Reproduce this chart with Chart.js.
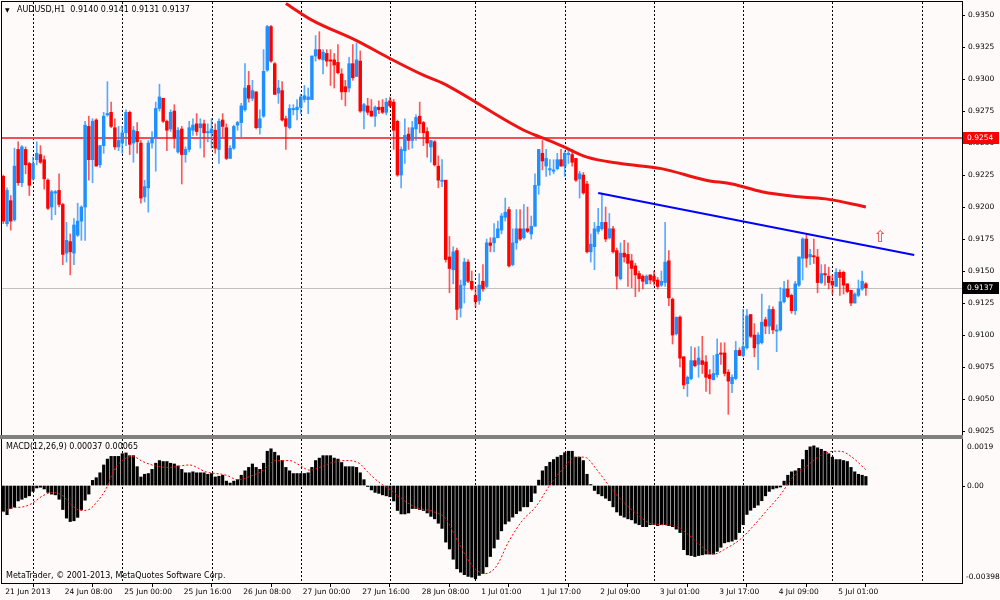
<!DOCTYPE html>
<html>
<head>
<meta charset="utf-8">
<script src="https://cdn.jsdelivr.net/npm/chart.js@4.4.1/dist/chart.umd.min.js"></script>
<style>
  html, body { margin: 0; padding: 0; background: #fffafa; }
  #wrap { position: relative; width: 1000px; height: 600px; overflow: hidden; background: #fffafa; }
  canvas { position: absolute; left: 0; }
  #price { top: 0; }
  #macd { top: 438px; }
  #sep { position: absolute; left: 0; top: 435px; width: 963px; height: 4px; background: #808080; }
</style>
</head>
<body>
<div id="wrap">
  <canvas id="price" width="1000" height="436"></canvas>
  <canvas id="macd" width="1000" height="162"></canvas>
  <div id="sep"></div>
</div>
<script>
// AUDUSD H1, one entry per bar (21 Jun 16:00 .. 5 Jul 08:00)
const symbol = "AUDUSD,H1"

const opens = [
  0.9224, 0.9187, 0.9205, 0.9190, 0.9245, 0.9219, 0.9245, 0.9234, 0.9222, 0.9237,
  0.9241, 0.9237, 0.9221, 0.9200, 0.9211, 0.9213, 0.9202, 0.9164, 0.9173, 0.9164,
  0.9178, 0.9189, 0.9200, 0.9263, 0.9237, 0.9268, 0.9233, 0.9248, 0.9272, 0.9274,
  0.9262, 0.9247, 0.9250, 0.9258, 0.9274, 0.9250, 0.9259, 0.9250, 0.9208, 0.9215,
  0.9250, 0.9254, 0.9277, 0.9285, 0.9267, 0.9261, 0.9275, 0.9243, 0.9261, 0.9241,
  0.9245, 0.9260, 0.9265, 0.9262, 0.9265, 0.9258, 0.9258, 0.9260, 0.9245, 0.9268,
  0.9262, 0.9238, 0.9246, 0.9264, 0.9266, 0.9276, 0.9295, 0.9285, 0.9290, 0.9262,
  0.9271, 0.9307, 0.9341, 0.9312, 0.9289, 0.9291, 0.9269, 0.9262, 0.9276, 0.9276,
  0.9278, 0.9284, 0.9284, 0.9284, 0.9318, 0.9323, 0.9315, 0.9320, 0.9315, 0.9315,
  0.9313, 0.9304, 0.9294, 0.9293, 0.9312, 0.9302, 0.9314, 0.9275, 0.9279, 0.9275,
  0.9271, 0.9278, 0.9278, 0.9274, 0.9283, 0.9282, 0.9267, 0.9225, 0.9244, 0.9257,
  0.9252, 0.9261, 0.9271, 0.9266, 0.9259, 0.9247, 0.9251, 0.9232, 0.9220, 0.9221,
  0.9161, 0.9151, 0.9166, 0.9121, 0.9139, 0.9157, 0.9142, 0.9131, 0.9127, 0.9142,
  0.9138, 0.9172, 0.9172, 0.9176, 0.9182, 0.9192, 0.9198, 0.9155, 0.9172, 0.9183,
  0.9176, 0.9183, 0.9179, 0.9185, 0.9217, 0.9242, 0.9232, 0.9229, 0.9228, 0.9230,
  0.9237, 0.9232, 0.9241, 0.9241, 0.9238, 0.9222, 0.9225, 0.9218, 0.9165, 0.9169,
  0.9181, 0.9183, 0.9188, 0.9176, 0.9183, 0.9166, 0.9144, 0.9164, 0.9163, 0.9158,
  0.9154, 0.9148, 0.9146, 0.9140, 0.9147, 0.9146, 0.9143, 0.9139, 0.9141, 0.9158,
  0.9128, 0.9101, 0.9114, 0.9083, 0.9062, 0.9066, 0.9080, 0.9077, 0.9080, 0.9079,
  0.9069, 0.9065, 0.9069, 0.9086, 0.9086, 0.9071, 0.9062, 0.9066, 0.9088, 0.9084,
  0.9090, 0.9116, 0.9100, 0.9093, 0.9094, 0.9112, 0.9107, 0.9120, 0.9103, 0.9104,
  0.9126, 0.9136, 0.9131, 0.9119, 0.9139, 0.9160, 0.9175, 0.9161, 0.9162, 0.9161,
  0.9141, 0.9148, 0.9146, 0.9142, 0.9138, 0.9149, 0.9149, 0.9140, 0.9135, 0.9125,
  0.9131, 0.9136, 0.9140
]

const highs = [
  0.9225, 0.9215, 0.9209, 0.9246, 0.9251, 0.9248, 0.9247, 0.9235, 0.9239, 0.9251,
  0.9248, 0.9240, 0.9222, 0.9213, 0.9213, 0.9226, 0.9203, 0.9188, 0.9179, 0.9191,
  0.9203, 0.9201, 0.9267, 0.9271, 0.9269, 0.9269, 0.9248, 0.9274, 0.9298, 0.9282,
  0.9269, 0.9263, 0.9263, 0.9276, 0.9275, 0.9263, 0.9266, 0.9252, 0.9221, 0.9252,
  0.9259, 0.9282, 0.9296, 0.9285, 0.9268, 0.9276, 0.9280, 0.9262, 0.9263, 0.9247,
  0.9267, 0.9269, 0.9273, 0.9269, 0.9268, 0.9265, 0.9269, 0.9265, 0.9269, 0.9273,
  0.9265, 0.9248, 0.9264, 0.9267, 0.9281, 0.9312, 0.9306, 0.9299, 0.9290, 0.9276,
  0.9323, 0.9342, 0.9342, 0.9313, 0.9299, 0.9298, 0.9271, 0.9280, 0.9280, 0.9284,
  0.9288, 0.9295, 0.9293, 0.9318, 0.9334, 0.9337, 0.9323, 0.9323, 0.9323, 0.9320,
  0.9327, 0.9308, 0.9299, 0.9317, 0.9327, 0.9328, 0.9322, 0.9281, 0.9285, 0.9284,
  0.9279, 0.9283, 0.9284, 0.9285, 0.9286, 0.9284, 0.9268, 0.9247, 0.9269, 0.9262,
  0.9267, 0.9272, 0.9282, 0.9267, 0.9262, 0.9252, 0.9252, 0.9240, 0.9237, 0.9221,
  0.9177, 0.9169, 0.9168, 0.9143, 0.9160, 0.9159, 0.9150, 0.9138, 0.9148, 0.9155,
  0.9175, 0.9176, 0.9187, 0.9189, 0.9195, 0.9207, 0.9200, 0.9183, 0.9198, 0.9198,
  0.9202, 0.9200, 0.9193, 0.9226, 0.9245, 0.9252, 0.9245, 0.9237, 0.9237, 0.9242,
  0.9245, 0.9244, 0.9245, 0.9245, 0.9238, 0.9228, 0.9227, 0.9220, 0.9179, 0.9188,
  0.9199, 0.9211, 0.9200, 0.9195, 0.9185, 0.9168, 0.9172, 0.9174, 0.9172, 0.9163,
  0.9156, 0.9150, 0.9147, 0.9147, 0.9147, 0.9150, 0.9145, 0.9150, 0.9188, 0.9166,
  0.9129, 0.9114, 0.9115, 0.9083, 0.9068, 0.9091, 0.9090, 0.9091, 0.9099, 0.9084,
  0.9073, 0.9084, 0.9097, 0.9094, 0.9094, 0.9073, 0.9069, 0.9095, 0.9090, 0.9120,
  0.9120, 0.9116, 0.9109, 0.9102, 0.9132, 0.9114, 0.9123, 0.9122, 0.9108, 0.9137,
  0.9142, 0.9143, 0.9132, 0.9142, 0.9161, 0.9176, 0.9179, 0.9167, 0.9175, 0.9167,
  0.9155, 0.9155, 0.9153, 0.9147, 0.9152, 0.9151, 0.9150, 0.9140, 0.9135, 0.9133,
  0.9143, 0.9150, 0.9141
]

const lows = [
  0.9187, 0.9185, 0.9182, 0.9189, 0.9217, 0.9216, 0.9226, 0.9209, 0.9221, 0.9233,
  0.9234, 0.9214, 0.9198, 0.9190, 0.9194, 0.9200, 0.9155, 0.9157, 0.9147, 0.9155,
  0.9177, 0.9174, 0.9174, 0.9221, 0.9219, 0.9232, 0.9231, 0.9242, 0.9271, 0.9262,
  0.9245, 0.9244, 0.9242, 0.9248, 0.9241, 0.9235, 0.9242, 0.9203, 0.9204, 0.9196,
  0.9246, 0.9228, 0.9275, 0.9266, 0.9244, 0.9259, 0.9246, 0.9242, 0.9218, 0.9235,
  0.9243, 0.9256, 0.9256, 0.9246, 0.9239, 0.9251, 0.9246, 0.9242, 0.9234, 0.9255,
  0.9237, 0.9238, 0.9245, 0.9260, 0.9255, 0.9275, 0.9282, 0.9283, 0.9261, 0.9257,
  0.9270, 0.9306, 0.9313, 0.9288, 0.9281, 0.9267, 0.9245, 0.9261, 0.9272, 0.9268,
  0.9273, 0.9282, 0.9273, 0.9284, 0.9314, 0.9315, 0.9304, 0.9310, 0.9295, 0.9293,
  0.9304, 0.9284, 0.9279, 0.9290, 0.9299, 0.9302, 0.9274, 0.9261, 0.9272, 0.9271,
  0.9263, 0.9273, 0.9273, 0.9272, 0.9278, 0.9245, 0.9224, 0.9215, 0.9234, 0.9245,
  0.9246, 0.9252, 0.9258, 0.9248, 0.9239, 0.9235, 0.9232, 0.9215, 0.9216, 0.9157,
  0.9133, 0.9140, 0.9112, 0.9114, 0.9125, 0.9141, 0.9135, 0.9122, 0.9124, 0.9134,
  0.9137, 0.9165, 0.9165, 0.9176, 0.9179, 0.9189, 0.9153, 0.9154, 0.9167, 0.9174,
  0.9175, 0.9180, 0.9175, 0.9185, 0.9210, 0.9229, 0.9224, 0.9225, 0.9226, 0.9229,
  0.9232, 0.9224, 0.9234, 0.9232, 0.9220, 0.9207, 0.9210, 0.9164, 0.9157, 0.9151,
  0.9179, 0.9182, 0.9173, 0.9175, 0.9164, 0.9136, 0.9143, 0.9157, 0.9138, 0.9137,
  0.9130, 0.9134, 0.9136, 0.9140, 0.9140, 0.9139, 0.9136, 0.9138, 0.9138, 0.9123,
  0.9093, 0.9100, 0.9075, 0.9058, 0.9052, 0.9065, 0.9075, 0.9067, 0.9070, 0.9056,
  0.9054, 0.9065, 0.9067, 0.9077, 0.9068, 0.9038, 0.9055, 0.9065, 0.9084, 0.9083,
  0.9089, 0.9098, 0.9083, 0.9073, 0.9093, 0.9101, 0.9101, 0.9101, 0.9087, 0.9103,
  0.9125, 0.9129, 0.9117, 0.9116, 0.9138, 0.9143, 0.9153, 0.9155, 0.9156, 0.9133,
  0.9140, 0.9139, 0.9136, 0.9132, 0.9138, 0.9131, 0.9132, 0.9133, 0.9123, 0.9125,
  0.9130, 0.9135, 0.9131
]

const closes = [
  0.9189, 0.9213, 0.9189, 0.9232, 0.9219, 0.9247, 0.9233, 0.9217, 0.9234, 0.9242,
  0.9235, 0.9222, 0.9199, 0.9212, 0.9212, 0.9202, 0.9163, 0.9174, 0.9165, 0.9186,
  0.9189, 0.9200, 0.9264, 0.9237, 0.9267, 0.9232, 0.9248, 0.9271, 0.9273, 0.9263,
  0.9247, 0.9252, 0.9258, 0.9274, 0.9249, 0.9260, 0.9251, 0.9207, 0.9216, 0.9250,
  0.9254, 0.9277, 0.9286, 0.9267, 0.9260, 0.9274, 0.9254, 0.9260, 0.9241, 0.9245,
  0.9262, 0.9264, 0.9259, 0.9265, 0.9258, 0.9259, 0.9261, 0.9246, 0.9267, 0.9263,
  0.9238, 0.9246, 0.9263, 0.9266, 0.9279, 0.9293, 0.9285, 0.9291, 0.9262, 0.9269,
  0.9306, 0.9341, 0.9314, 0.9288, 0.9293, 0.9268, 0.9263, 0.9277, 0.9277, 0.9278,
  0.9286, 0.9287, 0.9286, 0.9318, 0.9323, 0.9316, 0.9321, 0.9314, 0.9314, 0.9311,
  0.9305, 0.9290, 0.9290, 0.9312, 0.9301, 0.9315, 0.9275, 0.9280, 0.9274, 0.9271,
  0.9278, 0.9276, 0.9274, 0.9282, 0.9279, 0.9260, 0.9225, 0.9245, 0.9256, 0.9252,
  0.9262, 0.9270, 0.9265, 0.9258, 0.9250, 0.9252, 0.9233, 0.9221, 0.9221, 0.9159,
  0.9152, 0.9165, 0.9120, 0.9139, 0.9157, 0.9142, 0.9136, 0.9126, 0.9139, 0.9136,
  0.9172, 0.9170, 0.9176, 0.9183, 0.9193, 0.9196, 0.9154, 0.9172, 0.9183, 0.9175,
  0.9183, 0.9181, 0.9185, 0.9217, 0.9245, 0.9236, 0.9238, 0.9230, 0.9229, 0.9237,
  0.9232, 0.9242, 0.9242, 0.9235, 0.9221, 0.9226, 0.9211, 0.9165, 0.9171, 0.9183,
  0.9185, 0.9188, 0.9175, 0.9183, 0.9165, 0.9146, 0.9164, 0.9161, 0.9156, 0.9152,
  0.9147, 0.9144, 0.9142, 0.9146, 0.9143, 0.9142, 0.9138, 0.9142, 0.9157, 0.9129,
  0.9100, 0.9114, 0.9082, 0.9061, 0.9067, 0.9080, 0.9076, 0.9082, 0.9077, 0.9067,
  0.9066, 0.9070, 0.9085, 0.9085, 0.9070, 0.9064, 0.9067, 0.9088, 0.9084, 0.9091,
  0.9115, 0.9099, 0.9090, 0.9100, 0.9110, 0.9107, 0.9120, 0.9104, 0.9104, 0.9126,
  0.9136, 0.9130, 0.9119, 0.9140, 0.9161, 0.9175, 0.9160, 0.9163, 0.9161, 0.9141,
  0.9148, 0.9147, 0.9141, 0.9139, 0.9149, 0.9145, 0.9139, 0.9134, 0.9125, 0.9132,
  0.9136, 0.9142, 0.9137
]

// MACD(12,26,9) main histogram, one value per bar
const macdMain = [
  -0.00105, -0.00119, -0.00094, -0.00088, -0.00063, -0.00056, -0.00049, -0.00042, -0.00024, -0.00010,
  -0.00007, -0.00014, -0.00028, -0.00035, -0.00038, -0.00056, -0.00098, -0.00133, -0.00147, -0.00144,
  -0.00130, -0.00098, -0.00060, -0.00035, 0.00021, 0.00032, 0.00052, 0.00084, 0.00108, 0.00119,
  0.00119, 0.00119, 0.00130, 0.00133, 0.00122, 0.00122, 0.00077, 0.00035, 0.00046, 0.00049,
  0.00066, 0.00091, 0.00102, 0.00098, 0.00098, 0.00091, 0.00088, 0.00080, 0.00066, 0.00052,
  0.00052, 0.00056, 0.00052, 0.00052, 0.00052, 0.00046, 0.00049, 0.00035, 0.00038, 0.00042,
  0.00018, 0.00010, 0.00018, 0.00024, 0.00042, 0.00060, 0.00074, 0.00088, 0.00074, 0.00066,
  0.00091, 0.00140, 0.00150, 0.00136, 0.00122, 0.00102, 0.00074, 0.00060, 0.00049, 0.00049,
  0.00049, 0.00049, 0.00052, 0.00074, 0.00102, 0.00112, 0.00122, 0.00122, 0.00122, 0.00112,
  0.00108, 0.00094, 0.00077, 0.00077, 0.00077, 0.00074, 0.00052, 0.00024, -0.00004, -0.00018,
  -0.00028, -0.00032, -0.00038, -0.00042, -0.00046, -0.00063, -0.00102, -0.00116, -0.00116, -0.00112,
  -0.00094, -0.00094, -0.00098, -0.00102, -0.00112, -0.00126, -0.00136, -0.00154, -0.00175, -0.00231,
  -0.00259, -0.00301, -0.00340, -0.00354, -0.00364, -0.00371, -0.00374, -0.00381, -0.00367, -0.00360,
  -0.00332, -0.00290, -0.00255, -0.00220, -0.00185, -0.00157, -0.00146, -0.00129, -0.00115, -0.00104,
  -0.00087, -0.00087, -0.00066, -0.00031, 0.00022, 0.00060, 0.00078, 0.00095, 0.00106, 0.00116,
  0.00123, 0.00134, 0.00140, 0.00140, 0.00116, 0.00116, 0.00102, 0.00046, 0.00004, -0.00020,
  -0.00034, -0.00042, -0.00052, -0.00062, -0.00087, -0.00108, -0.00122, -0.00129, -0.00136, -0.00140,
  -0.00154, -0.00160, -0.00168, -0.00168, -0.00160, -0.00160, -0.00164, -0.00160, -0.00160, -0.00164,
  -0.00168, -0.00178, -0.00192, -0.00262, -0.00283, -0.00286, -0.00290, -0.00286, -0.00283, -0.00280,
  -0.00280, -0.00280, -0.00269, -0.00252, -0.00234, -0.00230, -0.00227, -0.00220, -0.00192, -0.00160,
  -0.00118, -0.00101, -0.00090, -0.00080, -0.00062, -0.00042, -0.00024, -0.00014, -0.00010, -0.00006,
  0.00018, 0.00042, 0.00056, 0.00060, 0.00070, 0.00106, 0.00144, 0.00158, 0.00162, 0.00154,
  0.00148, 0.00140, 0.00130, 0.00116, 0.00106, 0.00106, 0.00102, 0.00098, 0.00074, 0.00056,
  0.00046, 0.00042, 0.00037
]

// MACD signal line, read at these bar positions
const signalBars = [0, 2.5, 5, 7.6, 10.6, 13.3, 16, 18.2, 20.9, 23, 25.4, 27.6, 29.8, 32, 34.8, 37.5, 41, 44.6,
  50, 54.5, 60, 63, 66, 70, 73.3, 77, 79.6, 82.3, 85, 88.5, 92, 95.7, 98.4, 101, 104.7, 108.2, 111.8,
  115.4, 119, 122.6, 126.2, 129.4, 132.5, 136, 139.6, 143.2, 146.8, 150.4, 154, 156.3, 159.5, 163,
  166.7, 170.3, 173.9, 177.5, 181.1, 184.7, 188.3, 191, 194.6, 198.2, 201.8, 205.4, 209, 212.6,
  216.2, 219.8, 223.4, 225.2, 227.9, 232]
const signalVals = [-0.00108, -0.00091, -0.00088, -0.00074, -0.00042, -0.00028, -0.00042, -0.00077, -0.00102,
  -0.00098, -0.00063, -0.00014, 0.00063, 0.00102, 0.00119, 0.00098, 0.00080, 0.00074,
  0.00084, 0.00056, 0.00042, 0.00024, 0.00035, 0.00063, 0.00102, 0.00102, 0.00084, 0.00063, 0.00074,
  0.00094, 0.00102, 0.00091, 0.00049, 0.00014, -0.00024, -0.00066, -0.00094,
  -0.00105, -0.00136, -0.00238, -0.00329, -0.00360, -0.00332, -0.00227, -0.00143, -0.00087, -0.00003,
  0.00067, 0.00116, 0.00116, 0.00067, -0.00003,
  -0.00066, -0.00115, -0.00154, -0.00160, -0.00168, -0.00206, -0.00255, -0.00280, -0.00255, -0.00220,
  -0.00164, -0.00101, -0.00038, 0.00039,
  0.00081, 0.00123, 0.00140, 0.00140, 0.00120, 0.00065]

// thick red moving average, read at these bars
const maBars = [76, 83, 95, 104, 113, 118, 140, 145, 150, 157, 166, 177, 189, 196, 204, 214, 222, 232]
const maVals = [0.9359, 0.9346, 0.9330, 0.9316, 0.9303, 0.9297, 0.9260, 0.9254, 0.9248, 0.9239,
  0.9234, 0.9230, 0.9221, 0.9218, 0.9212, 0.9208, 0.9206, 0.9200]

// blue trend line end points
const trendBars = [160, 245]
const trendVals = [0.9211, 0.91625]

const levelRed = 0.9254
const arrowMark = { bar: 235.8, price: 0.9176 }

const dayBars = [8, 32, 56, 80, 104, 127, 151, 175, 199, 223, 247]
const labelBars = [0, 16, 32, 48, 64, 80, 96, 112, 128, 144, 160, 176, 192, 208, 224]
const labelTexts = ["21 Jun 2013", "24 Jun 08:00", "25 Jun 00:00", "25 Jun 16:00", "26 Jun 08:00",
  "27 Jun 00:00", "27 Jun 16:00", "28 Jun 08:00", "1 Jul 01:00", "1 Jul 17:00", "2 Jul 09:00",
  "3 Jul 01:00", "3 Jul 17:00", "4 Jul 09:00", "5 Jul 01:00"]
const priceTicks = [0.9025, 0.9050, 0.9075, 0.9100, 0.9125, 0.9150, 0.9175, 0.9200,
  0.9225, 0.9250, 0.9275, 0.9300, 0.9325, 0.9350]

const xMin = -0.35
const xMax = 257.85
const last = closes.length - 1
const lastClose = closes[last]

const BLUE = "#1e90ff"
const RED = "#ff0000"
const FONT = "DejaVu Sans"

Chart.defaults.font.family = FONT
Chart.defaults.font.size = 7.5
Chart.defaults.color = "#000"

const isUp = (i) => closes[i] >= opens[i]

// dashed vertical lines at each day start, shared by both panels
const dayGrid = {
  id: "dayGrid",
  beforeDatasetsDraw(chart) {
    const { ctx, chartArea: a, scales: { x } } = chart
    ctx.save()
    ctx.strokeStyle = "#000"
    ctx.lineWidth = 1
    ctx.setLineDash([2, 2])
    dayBars.forEach((b) => {
      const px = Math.round(x.getPixelForValue(b)) + 0.5
      ctx.beginPath()
      ctx.moveTo(px, a.top)
      ctx.lineTo(px, a.bottom)
      ctx.stroke()
    })
    ctx.restore()
  },
  afterDraw(chart) {
    const { ctx, chartArea: a } = chart
    ctx.save()
    ctx.strokeStyle = "#000"
    ctx.lineWidth = 1
    ctx.strokeRect(a.left - 0.5, a.top - 0.5, a.width + 1, a.height + 1)
    ctx.restore()
  }
}

const priceExtras = {
  id: "priceExtras",
  beforeDatasetsDraw(chart) {
    const { ctx, chartArea: a, scales: { y } } = chart
    ctx.save()
    let py = Math.round(y.getPixelForValue(lastClose)) + 0.5
    ctx.strokeStyle = "#c0c0c0"
    ctx.lineWidth = 1
    ctx.beginPath(); ctx.moveTo(a.left, py); ctx.lineTo(a.right, py); ctx.stroke()
    py = Math.round(y.getPixelForValue(levelRed))
    ctx.strokeStyle = "#f05050"
    ctx.lineWidth = 2
    ctx.beginPath(); ctx.moveTo(a.left, py); ctx.lineTo(a.right, py); ctx.stroke()
    ctx.restore()
  },
  afterDraw(chart) {
    const { ctx, chartArea: a, scales: { x, y } } = chart
    ctx.save()
    // price boxes on the axis
    const box = (val, bg) => {
      const py = Math.round(y.getPixelForValue(val))
      ctx.fillStyle = bg
      ctx.fillRect(a.right + 1, py - 6, 36, 12)
      ctx.fillStyle = "#fff"
      ctx.font = `7.5px "${FONT}"`
      ctx.textBaseline = "middle"
      ctx.textAlign = "left"
      ctx.fillText(val.toFixed(4), a.right + 5, py + 0.5)
    }
    box(levelRed, "#ff0000")
    box(lastClose, "#000")

    // header
    ctx.fillStyle = "#000"
    ctx.font = `6px "${FONT}"`
    ctx.textBaseline = "middle"
    ctx.fillText("▼", 5, 10)
    ctx.font = `8px "${FONT}"`
    const head = [opens[last], highs[last], lows[last], closes[last]].map((v) => v.toFixed(4)).join(" ")
    ctx.fillText(`${symbol}  ${head}`, 17, 10)

    // alert arrow
    ctx.fillStyle = "#f03c3c"
    ctx.font = `16px "${FONT}"`
    ctx.textAlign = "center"
    ctx.fillText("⇧", x.getPixelForValue(arrowMark.bar), y.getPixelForValue(arrowMark.price))
    ctx.restore()
  }
}

const macdExtras = {
  id: "macdExtras",
  afterDraw(chart) {
    const { ctx, chartArea: a, scales: { y } } = chart
    ctx.save()
    ctx.fillStyle = "#000"
    ctx.strokeStyle = "#000"
    ctx.font = `7.5px "${FONT}"`
    ctx.textBaseline = "middle"
    ctx.textAlign = "left"
    const zy = Math.round(y.getPixelForValue(0)) + 0.5
    ctx.beginPath(); ctx.moveTo(a.right, zy); ctx.lineTo(a.right + 3, zy); ctx.stroke()
    ctx.fillText(y.max.toFixed(4), a.right + 5, a.top + 8)
    ctx.fillText("0.00", a.right + 5, zy)
    ctx.fillText(y.min.toFixed(5), a.right + 4, a.bottom - 6)

    ctx.font = `8px "${FONT}"`
    ctx.fillText(`MACD(12,26,9) ${macdMain[last].toFixed(5)} ${signalVals[signalVals.length - 1].toFixed(5)}`, 6, a.top + 8)
    ctx.fillText("MetaTrader, © 2001-2013, MetaQuotes Software Corp.", 6, a.bottom - 7)
    ctx.restore()
  }
}

new Chart(document.getElementById("price"), {
  type: "bar",
  data: {
    datasets: [
      {
        type: "line",
        data: maBars.map((b, i) => ({ x: b, y: maVals[i] })),
        borderColor: "#ee1414",
        borderWidth: 3,
        pointRadius: 0,
        cubicInterpolationMode: "monotone",
        order: 0
      },
      {
        type: "line",
        data: trendBars.map((b, i) => ({ x: b, y: trendVals[i] })),
        borderColor: "#0000ff",
        borderWidth: 2,
        pointRadius: 0,
        order: 0
      },
      {
        data: opens.map((o, i) => ({ x: i, y: [o, closes[i]] })),
        backgroundColor: (c) => (isUp(c.dataIndex) ? BLUE : RED),
        barThickness: 2.8,
        minBarLength: 1,
        grouped: false,
        order: 1
      },
      {
        data: highs.map((h, i) => ({ x: i, y: [lows[i], h] })),
        backgroundColor: (c) => (isUp(c.dataIndex) ? "rgba(30,144,255,0.75)" : "rgba(255,0,0,0.65)"),
        barThickness: 1,
        grouped: false,
        order: 2
      }
    ]
  },
  options: {
    animation: false,
    responsive: false,
    devicePixelRatio: 1,
    layout: { padding: { top: 2, left: 2, right: 0, bottom: 1 } },
    plugins: { legend: { display: false }, tooltip: { enabled: false } },
    scales: {
      x: { type: "linear", min: xMin, max: xMax, offset: false, display: false },
      y: {
        position: "right",
        min: 0.90219,
        max: 0.93602,
        beginAtZero: false,
        afterBuildTicks: (s) => { s.ticks = priceTicks.map((v) => ({ value: v })) },
        afterFit: (s) => { s.width = 38; s.paddingTop = 0; s.paddingBottom = 0 },
        ticks: { callback: (v) => v.toFixed(4), padding: 3, color: "#000" },
        grid: { drawOnChartArea: false, tickLength: 3, color: "#000" },
        border: { color: "#000" }
      }
    }
  },
  plugins: [dayGrid, priceExtras]
})

new Chart(document.getElementById("macd"), {
  type: "bar",
  data: {
    datasets: [
      {
        type: "line",
        data: signalBars.map((b, i) => ({ x: b, y: signalVals[i] })),
        borderColor: "#ff0000",
        borderWidth: 1,
        borderDash: [2, 2],
        pointRadius: 0,
        cubicInterpolationMode: "monotone",
        order: 0
      },
      {
        data: macdMain.map((v, i) => ({ x: i, y: v })),
        backgroundColor: "#000",
        barThickness: 2.5,
        order: 1
      }
    ]
  },
  options: {
    animation: false,
    responsive: false,
    devicePixelRatio: 1,
    layout: { padding: { top: 1, left: 2, right: 0, bottom: 0 } },
    plugins: { legend: { display: false }, tooltip: { enabled: false } },
    scales: {
      x: {
        type: "linear",
        min: xMin,
        max: xMax,
        offset: false,
        position: "bottom",
        afterBuildTicks: (s) => { s.ticks = labelBars.map((v) => ({ value: v })) },
        afterFit: (s) => { s.height = 17; s.paddingLeft = 0; s.paddingRight = 0 },
        ticks: {
          callback: (v, i) => labelTexts[i],
          align: "start",
          labelOffset: 2,
          maxRotation: 0,
          autoSkip: false,
          padding: 1,
          color: "#000"
        },
        grid: { drawOnChartArea: false, tickLength: 4, color: "#000" },
        border: { color: "#000" }
      },
      y: {
        position: "right",
        min: -0.00398,
        max: 0.0019,
        beginAtZero: false,
        afterFit: (s) => { s.width = 38; s.paddingTop = 0; s.paddingBottom = 0 },
        ticks: { display: false },
        grid: { drawOnChartArea: false, drawTicks: false },
        border: { color: "#000" }
      }
    }
  },
  plugins: [dayGrid, macdExtras]
})
</script>
</body>
</html>
